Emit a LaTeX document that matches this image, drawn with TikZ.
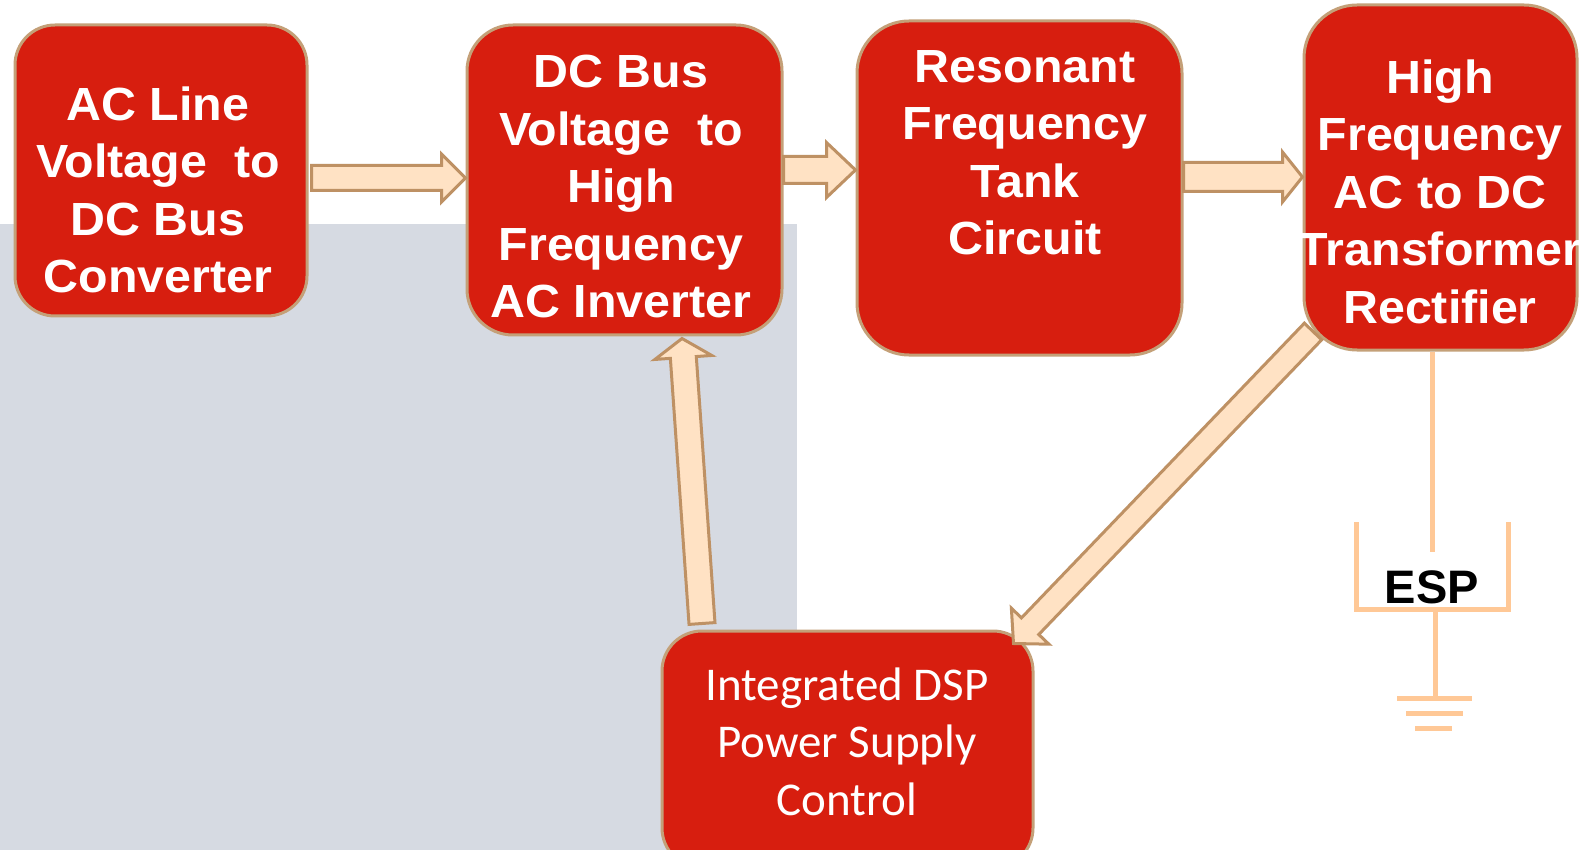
\documentclass[tikz,border=0pt]{standalone}
\usepackage{fontspec}
\setmainfont{Liberation Sans}
\newfontfamily\boxfont{Liberation Sans}[FakeStretch=1.04]
\newfontfamily\calibri{Carlito}
\usetikzlibrary{calc}
\definecolor{boxred}{RGB}{215,30,15}
\definecolor{boxedge}{RGB}{196,160,120}
\definecolor{arrowfill}{RGB}{255,226,196}
\definecolor{arrowedge}{RGB}{190,145,100}
\definecolor{bggray}{RGB}{214,218,226}
\definecolor{espcol}{RGB}{255,200,150}
\tikzset{
  redbox/.style={draw=boxedge, line width=3pt, fill=boxred, inner sep=0pt},
  boxtext/.style={text=white, font=\boxfont\fontsize{46.5}{57.5}\selectfont\bfseries, align=center, inner sep=0pt, anchor=north},
  dsptext/.style={text=white, font=\calibri\fontsize{47}{57.5}\selectfont, align=center, inner sep=0pt, anchor=north},
  flowarrow/.style={draw=arrowedge, fill=arrowfill, line width=3pt, line join=miter},
  espline/.style={draw=espcol, line width=5pt}
}
\newcommand{\blkarrow}[5]{%
  \path ($(#2)!#5!(#1)$) coordinate (hb);
  \draw[flowarrow] ($(#1)!#3!90:(#2)$) -- ($(hb)!#3!90:(#2)$) -- ($(hb)!#4!90:(#2)$) -- (#2)
     -- ($(hb)!#4!-90:(#2)$) -- ($(hb)!#3!-90:(#2)$) -- ($(#1)!#3!-90:(#2)$) -- cycle;
}
\begin{document}
\begin{tikzpicture}[x=1pt,y=-1pt]
\useasboundingbox (0,0) rectangle (1585,850);
\fill[white] (0,0) rectangle (1585,850);
\fill[bggray] (0,224) rectangle (797,850);

% boxes
\node[redbox, rounded corners=40pt, minimum width=292pt, minimum height=291pt] (b1) at (161,170.5) {};
\node[redbox, rounded corners=46pt, minimum width=315pt, minimum height=310pt] (b2) at (624.5,180) {};
\node[redbox, rounded corners=52pt, minimum width=325pt, minimum height=334pt] (b3) at (1019.5,188) {};
\node[redbox, rounded corners=53pt, minimum width=273pt, minimum height=345pt] (b4) at (1440.5,177.5) {};
\node[redbox, rounded corners=40pt, minimum width=371pt, minimum height=237pt] (b5) at (847.5,749.5) {};

% box texts
\node[boxtext] (t1) at (158,79.75) {\strut AC Line\\Voltage\ \ to\\DC Bus\\Converter};
\node[boxtext] (t2) at (621,47.5) {\strut DC Bus\\Voltage\ \ to\\High\\Frequency\\AC Inverter};
\node[boxtext] (t3) at (1025,41.75) {\strut Resonant\\Frequency\\Tank\\Circuit};
\node[boxtext] (t4) at (1440,52.75) {\strut High\\Frequency\\AC to DC\\Transformer\\Rectifier};
\node[dsptext] (t5) at (847,659.75) {\strut Integrated DSP\\Power Supply\\Control};

% arrows
\coordinate (a1s) at ([xshift=3pt,yshift=-7.5pt]b1.east);
\coordinate (a1e) at (b2.west |- a1s);
\blkarrow{a1s}{a1e}{12.5pt}{24pt}{24pt}
\coordinate (a2s) at ([yshift=10pt]b2.east);
\coordinate (a2e) at (b3.west |- a2s);
\blkarrow{a2s}{a2e}{13.5pt}{27.5pt}{29pt}
\coordinate (a3s) at ([yshift=11pt]b3.east);
\coordinate (a3e) at (b4.west |- a3s);
\blkarrow{a3s}{a3e}{14.5pt}{25pt}{20pt}
\coordinate (a4s) at ([xshift=-145.5pt,yshift=6pt]b5.north);
\coordinate (a4e) at ([xshift=57.5pt,yshift=-2pt]b2.south);
\blkarrow{a4s}{a4e}{13pt}{28.5pt}{19pt}
\coordinate (a5s) at ([xshift=-127.5pt,yshift=20pt]b4.south);
\coordinate (a5e) at ([xshift=-21pt,yshift=-14pt]b5.north east);
\blkarrow{a5s}{a5e}{12pt}{26pt}{24pt}

% ESP and ground
\coordinate (esptop) at (1432,552);
\draw[espline] ([xshift=-8.5pt]b4.south) -- (esptop);
\draw[espline] (1356,522) -- (1356,609) -- (1508,609) -- (1508,522);
\draw[espline] (1435,609) -- (1435,698);
\draw[espline] (1397,698) -- (1472,698);
\draw[espline] (1406,713) -- (1463,713);
\draw[espline] (1415,728) -- (1452,728);
\node[font=\fontsize{47}{56}\selectfont\bfseries, text=black, inner sep=0pt, anchor=base] (esp) at (1432,603) {ESP};
\end{tikzpicture}
\end{document}
